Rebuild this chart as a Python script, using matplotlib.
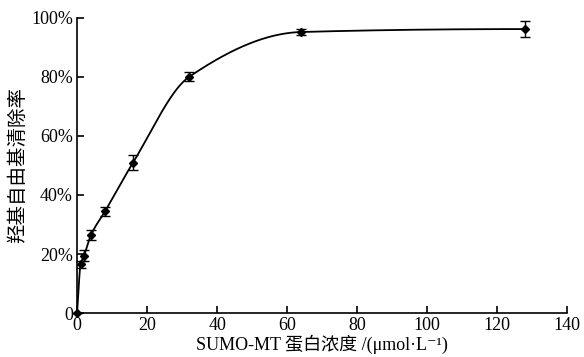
import numpy as np
import matplotlib
matplotlib.use("Agg")
import matplotlib.pyplot as plt

conc = [0, 1, 2, 4, 8, 16, 32, 64, 128]
rate = [0, 16.5, 19.5, 26.5, 34.5, 51.0, 80.0, 95.2, 96.2]
err = [0, 1.3, 1.8, 1.8, 1.6, 2.6, 1.5, 0.9, 2.8]
xticks = [0, 20, 40, 60, 80, 100, 120, 140]
yticks = [0, 20, 40, 60, 80, 100]
ylabels = ["0", "20%", "40%", "60%", "80%", "100%"]

def pchip(x, y, xs):
    x = np.asarray(x, float); y = np.asarray(y, float)
    h = np.diff(x); d = np.diff(y) / h
    n = len(x); m = np.zeros(n)
    for k in range(1, n - 1):
        if d[k-1] * d[k] > 0:
            w1 = 2*h[k] + h[k-1]; w2 = h[k] + 2*h[k-1]
            m[k] = (w1 + w2) / (w1/d[k-1] + w2/d[k])
    m[0] = d[0]; m[-1] = 0.0
    out = np.empty_like(xs)
    for i, xv in enumerate(xs):
        k = min(np.searchsorted(x, xv, side='right') - 1, n - 2)
        t = (xv - x[k]) / h[k]
        h00 = 2*t**3 - 3*t**2 + 1; h10 = t**3 - 2*t**2 + t
        h01 = -2*t**3 + 3*t**2; h11 = t**3 - t**2
        out[i] = h00*y[k] + h10*h[k]*m[k] + h01*y[k+1] + h11*h[k]*m[k+1]
    return out

serif = ['Liberation Serif', 'Noto Sans CJK SC', 'DejaVu Sans']
plt.rcParams['font.family'] = serif

fig = plt.figure(figsize=(5.84, 3.57), dpi=100)
ax = fig.add_axes([0.132, 0.123, 0.839, 0.827])

xs = np.linspace(0, 128, 800)
ax.plot(xs, pchip(conc, rate, xs), color='black', lw=1.3, clip_on=False)
ax.errorbar(conc, rate, yerr=err, fmt='D', color='black', ms=4, capsize=3.5,
            elinewidth=1.0, capthick=1.0, clip_on=False)

ax.set_xlim(0, 140)
ax.set_ylim(0, 100)
ax.set_xticks(xticks)
ax.set_yticks(yticks)
ax.set_yticklabels(ylabels)
for s in ['top', 'right']:
    ax.spines[s].set_visible(False)
for s in ['left', 'bottom']:
    ax.spines[s].set_linewidth(1.2)
ax.tick_params(direction='in', length=5, width=1.2, labelsize=13, pad=3)
ax.set_xlabel('SUMO-MT 蛋白浓度 /(μmol·L⁻¹)', fontsize=13, labelpad=0)
ax.set_ylabel('羟基自由基清除率', fontsize=14, labelpad=3)

fig.savefig('out.png', dpi=100)
